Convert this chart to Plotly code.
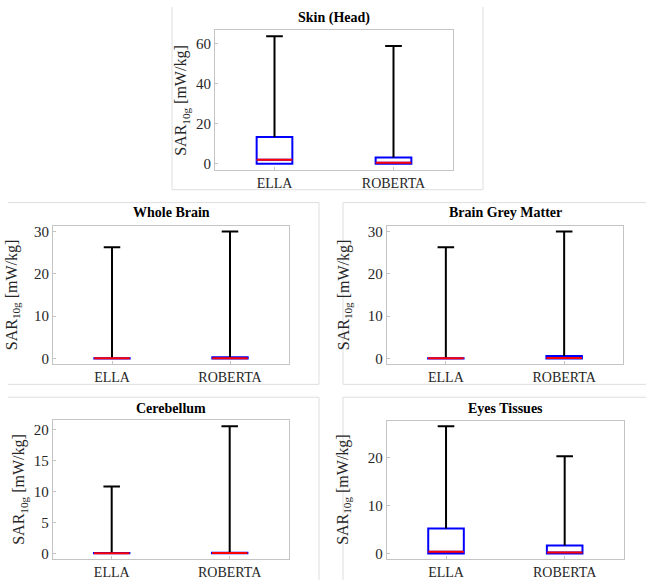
import plotly.graph_objects as go

W, H = 646, 582

panel_titles = ["Skin (Head)", "Whole Brain", "Brain Grey Matter", "Cerebellum", "Eyes Tissues"]
models = ["ELLA", "ROBERTA"]
positions = [1, 2]

# per-panel statistics, [ELLA, ROBERTA]
skin_q1 = [0.0, 0.0]
skin_median = [2.0, 0.5]
skin_q3 = [13.4, 3.1]
skin_max = [63.7, 58.8]

brain_q1 = [0.0, 0.0]
brain_median = [0.05, 0.1]
brain_q3 = [0.1, 0.3]
brain_max = [26.3, 30.0]

grey_q1 = [0.0, 0.0]
grey_median = [0.05, 0.15]
grey_q3 = [0.1, 0.6]
grey_max = [26.3, 30.0]

cereb_q1 = [0.0, 0.0]
cereb_median = [0.02, 0.03]
cereb_q3 = [0.05, 0.08]
cereb_max = [10.85, 20.6]

eyes_q1 = [0.0, 0.0]
eyes_median = [0.35, 0.2]
eyes_q3 = [5.2, 1.65]
eyes_max = [26.6, 20.35]

stats = [
    (skin_q1, skin_median, skin_q3, skin_max),
    (brain_q1, brain_median, brain_q3, brain_max),
    (grey_q1, grey_median, grey_q3, grey_max),
    (cereb_q1, cereb_median, cereb_q3, cereb_max),
    (eyes_q1, eyes_median, eyes_q3, eyes_max),
]

y_ranges = [[-3.0, 66.9], [-1.4, 31.3], [-1.4, 31.3], [-1.0, 21.6], [-1.2, 27.8]]
y_dticks = [20, 10, 10, 5, 10]

# axes boxes in pixels: left, right, top, bottom
axes_px = [
    (215, 453, 28, 169),
    (53, 289, 225.5, 365),
    (386.7, 623.3, 225.5, 365),
    (52.7, 288.7, 421, 561.3),
    (386.7, 624, 421.5, 561),
]
title_y_px = [16, 212, 212, 409, 409]
ylabel_x_px = [182, 12, 344, 20, 344]

FONT = "Liberation Serif, Times New Roman, serif"
BOX_W = 0.3
CAP_W = 0.14


def pxx(x):
    return x / W


def pxy(y):
    return 1 - y / H


fig = go.Figure()
layout = dict(
    width=W, height=H,
    margin=dict(l=0, r=0, t=0, b=0),
    paper_bgcolor="white", plot_bgcolor="white",
    showlegend=False,
    font=dict(family=FONT, color="#262626"),
    annotations=[], shapes=[],
)

for i, (q1, med, q3, mx) in enumerate(stats):
    xa = "x" if i == 0 else f"x{i+1}"
    ya = "y" if i == 0 else f"y{i+1}"
    xk = "xaxis" if i == 0 else f"xaxis{i+1}"
    yk = "yaxis" if i == 0 else f"yaxis{i+1}"
    l, r, t, b = axes_px[i]

    fig.add_trace(go.Box(
        x=positions, q1=q1, median=med, q3=q3, lowerfence=q1, upperfence=q3,
        width=BOX_W, line=dict(color="#0000ff", width=2), fillcolor="rgba(0,0,0,0)",
        boxpoints=False, hoverinfo="skip", xaxis=xa, yaxis=ya,
    ))

    wx, wy = [], []
    for p, top, upper in zip(positions, q3, mx):
        wx += [p, p, None, p - CAP_W / 2, p + CAP_W / 2, None]
        wy += [top, upper, None, upper, upper, None]
    fig.add_trace(go.Scatter(x=wx, y=wy, mode="lines", line=dict(color="black", width=2),
                             hoverinfo="skip", xaxis=xa, yaxis=ya))

    mxs, mys = [], []
    for p, m in zip(positions, med):
        mxs += [p - BOX_W / 2, p + BOX_W / 2, None]
        mys += [m, m, None]
    fig.add_trace(go.Scatter(x=mxs, y=mys, mode="lines", line=dict(color="#ff0000", width=2),
                             hoverinfo="skip", xaxis=xa, yaxis=ya))

    axis_common = dict(showline=True, mirror=True, linecolor="#c4c4c4", linewidth=1,
                       ticks="inside", ticklen=3, tickcolor="#c4c4c4",
                       showgrid=False, zeroline=False, fixedrange=True,
                       tickfont=dict(family=FONT, size=14, color="#262626"))
    layout[xk] = dict(axis_common, domain=[pxx(l), pxx(r)], range=[0.5, 2.5],
                      tickmode="array", tickvals=positions, ticktext=models,
                      anchor=ya)
    layout[yk] = dict(axis_common, domain=[pxy(b), pxy(t)], range=y_ranges[i],
                      tickmode="linear", tick0=0, dtick=y_dticks[i], anchor=xa,
                      tickfont=dict(family=FONT, size=15, color="#262626"))

    layout["annotations"].append(dict(
        text=f"<b>{panel_titles[i]}</b>", xref="paper", yref="paper",
        x=pxx((l + r) / 2), y=pxy(title_y_px[i]), xanchor="center", yanchor="middle",
        showarrow=False, font=dict(family=FONT, size=14, color="black"),
    ))
    layout["annotations"].append(dict(
        text="SAR<sub>10g</sub> [mW/kg]", xref="paper", yref="paper",
        x=pxx(ylabel_x_px[i]), y=pxy((t + b) / 2), xanchor="center", yanchor="middle",
        textangle=-90, showarrow=False, font=dict(family=FONT, size=16, color="#262626"),
    ))

# panel frames (pixel coordinates)
frame_lines = [
    (172, 5, 172, 189), (483, 5, 483, 189), (172, 189, 483, 189),
    (8, 202, 319, 202), (319, 202, 319, 385), (8, 385, 319, 385),
    (343, 202, 646, 202), (343, 202, 343, 385), (343, 385, 646, 385),
    (8, 398, 319, 398), (319, 398, 319, 582),
    (343, 398, 646, 398), (343, 398, 343, 582),
]
for x0, y0, x1, y1 in frame_lines:
    layout["shapes"].append(dict(type="line", xref="paper", yref="paper",
                                 x0=pxx(x0), y0=pxy(y0), x1=pxx(x1), y1=pxy(y1),
                                 line=dict(color="#dedede", width=1), layer="below"))

fig.update_layout(**layout)
fig.write_html("out.html", config={"displayModeBar": False},
               post_script="document.body.style.margin='0px';document.body.style.overflow='hidden';")
